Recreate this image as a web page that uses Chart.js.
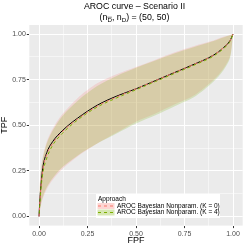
<!DOCTYPE html>
<html>
<head>
<meta charset="utf-8">
<script src="https://cdn.jsdelivr.net/npm/chart.js@4.4.1/dist/chart.umd.min.js"></script>
<style>
html, body { margin: 0; padding: 0; background: #fff; }
#wrap { width: 245px; height: 245px; }
</style>
</head>
<body>
<div id="wrap"><canvas id="aroc" width="245" height="245"></canvas></div>
<script>
// FPF grid (x) and the curves
var fpf      = [0, 0.005, 0.01, 0.02, 0.04, 0.07, 0.12, 0.2, 0.3, 0.4, 0.5, 0.6, 0.7, 0.8, 0.9, 0.95, 0.985, 1];
var trueTpf  = [0, 0.10, 0.17, 0.27, 0.35, 0.41, 0.47, 0.54, 0.61, 0.66, 0.70, 0.745, 0.79, 0.835, 0.885, 0.925, 0.965, 1];
var k0Mean   = [0, 0.09, 0.16, 0.26, 0.34, 0.40, 0.465, 0.535, 0.605, 0.655, 0.70, 0.745, 0.79, 0.835, 0.885, 0.925, 0.965, 1];
var k4Mean   = [0, 0.08, 0.15, 0.24, 0.32, 0.39, 0.455, 0.53, 0.60, 0.65, 0.695, 0.74, 0.785, 0.83, 0.88, 0.92, 0.96, 1];
var k0Upper  = [0, 0.20, 0.26, 0.33, 0.41, 0.48, 0.56, 0.65, 0.73, 0.78, 0.82, 0.86, 0.90, 0.935, 0.965, 0.985, 0.995, 1];
var k0Lower  = [0, 0.03, 0.06, 0.10, 0.15, 0.20, 0.26, 0.33, 0.40, 0.46, 0.52, 0.565, 0.615, 0.665, 0.75, 0.81, 0.88, 1];
var k4Upper  = [0, 0.19, 0.25, 0.32, 0.40, 0.47, 0.55, 0.635, 0.715, 0.77, 0.815, 0.855, 0.895, 0.93, 0.962, 0.982, 0.994, 1];
var k4Lower  = [0, 0.04, 0.07, 0.11, 0.16, 0.21, 0.27, 0.335, 0.40, 0.455, 0.51, 0.555, 0.605, 0.655, 0.74, 0.80, 0.87, 1];
var tickVals = [0, 0.25, 0.5, 0.75, 1];
var gridVals = [0, 0.125, 0.25, 0.375, 0.5, 0.625, 0.75, 0.875, 1];
var legendLabels = ["AROC Bayesian Nonparam. (K = 0)", "AROC Bayesian Nonparam. (K = 4)"];

var red = "#F8766D", green = "#7CAE00";
var font = "'Liberation Sans', Arial, sans-serif";

function pts(arr) {
  return fpf.map(function (x, i) { return { x: x, y: arr[i] }; });
}
function isMajor(v) {
  return tickVals.some(function (t) { return Math.abs(t - v) < 1e-9; });
}

var panelBg = {
  id: "panelBg",
  beforeDraw: function (chart) {
    var a = chart.chartArea, c = chart.ctx;
    c.save();
    c.fillStyle = "#EBEBEB";
    c.fillRect(a.left, a.top, a.right - a.left, a.bottom - a.top);
    c.restore();
  },
  afterDraw: function (chart) {
    var c = chart.ctx;
    var a = chart.chartArea;
    var cx = (a.left + a.right) / 2;
    c.save();
    // title
    c.fillStyle = "#000";
    c.textAlign = "center";
    c.textBaseline = "middle";
    c.font = "8.8px " + font;
    c.fillText("AROC curve \u2013 Scenario II", cx - 1.5, 7);
    // subtitle with subscripts
    var parts = [["(n", 0], ["D", 1], [", n", 0], ["D", 1], [") = (50, 50)", 0]];
    var w = 0;
    parts.forEach(function (p) {
      c.font = (p[1] ? "6.2px " : "8.8px ") + font;
      w += c.measureText(p[0]).width;
    });
    var x = cx - 1.5 - w / 2;
    c.textAlign = "left";
    parts.forEach(function (p, i) {
      c.font = (p[1] ? "6.2px " : "8.8px ") + font;
      var pw = c.measureText(p[0]).width;
      var y = p[1] ? 20.5 : 18;
      c.fillText(p[0], x, y);
      if (i === 1) {
        c.strokeStyle = "#000";
        c.lineWidth = 0.5;
        c.beginPath();
        c.moveTo(x, 17.2);
        c.lineTo(x + pw, 17.2);
        c.stroke();
      }
      x += pw;
    });

    // legend box
    var lx = 96, ly = 194, lw = 124, lh = 24;
    c.fillStyle = "#fff";
    c.fillRect(lx, ly, lw, lh);
    c.fillStyle = "#000";
    c.font = "6.5px " + font;
    c.textBaseline = "middle";
    c.fillText("Approach", lx + 2, ly + 5);
    var keys = [
      { fill: "rgba(248,118,109,0.3)", line: red },
      { fill: "rgba(124,174,0,0.3)", line: green }
    ];
    keys.forEach(function (k, i) {
      var ky = ly + 9 + i * 6.5;
      c.fillStyle = k.fill;
      c.fillRect(lx + 1.5, ky, 17, 6);
      c.strokeStyle = k.line;
      c.lineWidth = 1.2;
      c.setLineDash([3, 3]);
      c.beginPath();
      c.moveTo(lx + 2, ky + 3);
      c.lineTo(lx + 18, ky + 3);
      c.stroke();
      c.setLineDash([]);
      c.fillStyle = "#000";
      c.fillText(legendLabels[i], lx + 21, ky + 3.2);
    });
    c.restore();
  }
};

var axisBase = function (titleText, isX) {
  return {
    type: "linear",
    min: -0.05,
    max: 1.05,
    afterBuildTicks: function (scale) {
      scale.ticks = gridVals.map(function (v) { return { value: v }; });
    },
    afterFit: function (scale) {
      if (isX) scale.height = 19.4; else scale.width = 29.3;
    },
    border: { display: false },
    grid: {
      color: "#FFFFFF",
      lineWidth: function (ctx) { return isMajor(ctx.tick.value) ? 1 : 0.5; },
      tickColor: function (ctx) { return isMajor(ctx.tick.value) ? "#333333" : "rgba(0,0,0,0)"; },
      tickLength: 2.5,
      drawTicks: true
    },
    ticks: {
      autoSkip: false,
      maxRotation: 0,
      padding: isX ? 1.5 : 1,
      color: "#4D4D4D",
      font: { family: font, size: 7 },
      callback: function (v) { return isMajor(v) ? v.toFixed(2) : ""; }
    },
    title: {
      display: true,
      text: titleText,
      color: "#000",
      font: { family: font, size: 9, lineHeight: 1 },
      padding: { top: 0, bottom: 0 }
    }
  };
};

new Chart(document.getElementById("aroc"), {
  type: "line",
  data: {
    datasets: [
      { label: "k0 upper", data: pts(k0Upper), fill: "+1", backgroundColor: "rgba(248,118,109,0.2)", borderWidth: 0, pointRadius: 0, order: 10 },
      { label: "k0 lower", data: pts(k0Lower), fill: false, borderWidth: 0, pointRadius: 0, order: 10 },
      { label: "k4 upper", data: pts(k4Upper), fill: "+1", backgroundColor: "rgba(124,174,0,0.2)", borderWidth: 0, pointRadius: 0, order: 9 },
      { label: "k4 lower", data: pts(k4Lower), fill: false, borderWidth: 0, pointRadius: 0, order: 9 },
      { label: "true", data: pts(trueTpf), borderColor: "#000", borderWidth: 1, pointRadius: 0, fill: false, cubicInterpolationMode: "monotone", order: 3 },
      { label: legendLabels[0], data: pts(k0Mean), borderColor: red, borderWidth: 1, borderDash: [3, 3], pointRadius: 0, fill: false, cubicInterpolationMode: "monotone", order: 2 },
      { label: legendLabels[1], data: pts(k4Mean), borderColor: green, borderWidth: 1, borderDash: [3, 3], borderDashOffset: 3, pointRadius: 0, fill: false, cubicInterpolationMode: "monotone", order: 1 }
    ]
  },
  options: {
    responsive: false,
    animation: false,
    layout: { padding: { top: 25, right: 2.3, left: 0, bottom: 0 } },
    elements: { line: { tension: 0.3 } },
    plugins: {
      legend: { display: false },
      tooltip: { enabled: false },
      filler: { propagate: false }
    },
    scales: {
      x: axisBase("FPF", true),
      y: axisBase("TPF", false)
    }
  },
  plugins: [panelBg]
});
</script>
</body>
</html>
